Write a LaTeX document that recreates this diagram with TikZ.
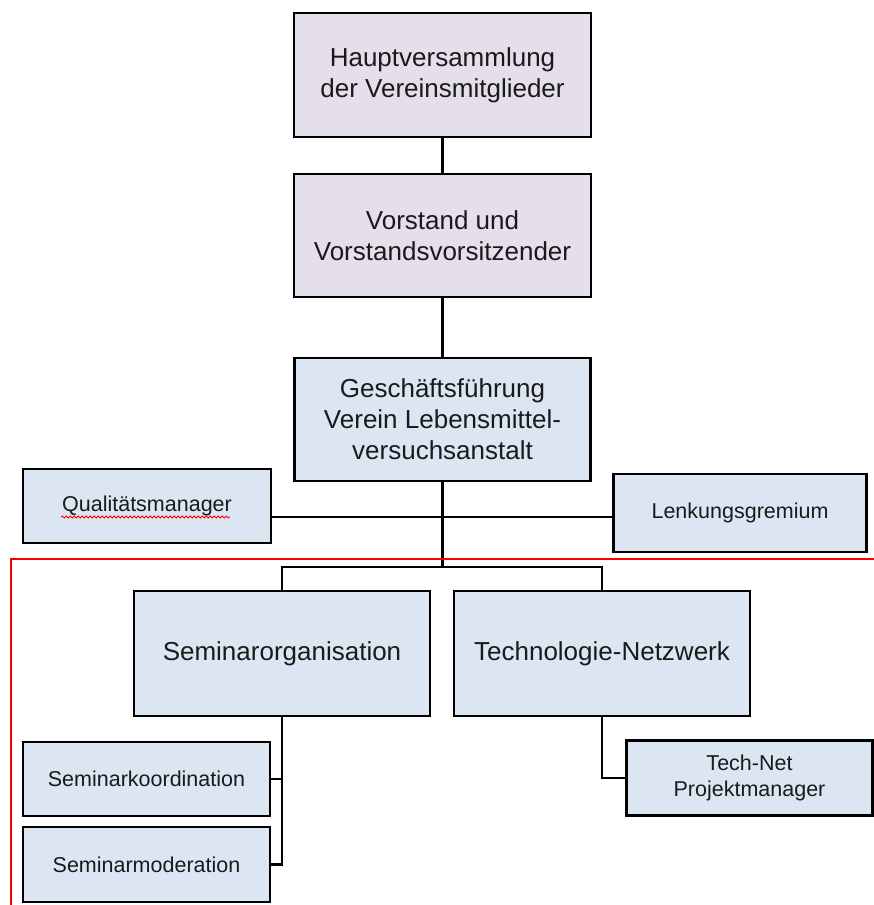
\documentclass[tikz,border=0pt]{standalone}
\usepackage{fontspec}
\setmainfont{Liberation Sans}
\usetikzlibrary{decorations.pathmorphing}
\definecolor{lav}{HTML}{E5DFEC}
\definecolor{lblue}{HTML}{DCE6F2}
\definecolor{txt}{HTML}{1A1A1A}
\begin{document}
\begin{tikzpicture}[x=1pt,y=-1pt,
  box/.style={draw=black,line width=2.4pt,align=center,inner sep=0pt,text=txt},
  bigbox/.style={box,font=\fontsize{26}{31}\selectfont},
  smallbox/.style={box,fill=lblue,font=\fontsize{21.5}{26}\selectfont},
  conn/.style={draw=black,line width=2.4pt}]
\useasboundingbox (0,0) rectangle (874,905);
\node[bigbox,fill=lav,minimum width=297pt,minimum height=124pt] (H) at (442.5,75) {Hauptversammlung\\der Vereinsmitglieder};
\node[bigbox,fill=lav,minimum width=297pt,minimum height=123pt] (V) at (442.5,235.5) {Vorstand und\\Vorstandsvorsitzender};
\node[bigbox,fill=lblue,minimum width=296pt,minimum height=123pt] (G) at (442.5,419.5) {Geschäftsführung\\Verein Lebensmittel-\\versuchsanstalt};
\node[smallbox,minimum width=248pt,minimum height=74pt] (Q) at (147,506) {Qualitätsmanager};
\node[smallbox,minimum width=253pt,minimum height=78pt] (L) at (740,513) {Lenkungsgremium};
\node[bigbox,fill=lblue,minimum width=296pt,minimum height=125pt] (S) at (282,653.5) {Seminarorganisation};
\node[bigbox,fill=lblue,minimum width=296pt,minimum height=125pt] (T) at (602,653.5) {Technologie-Netzwerk};
\node[smallbox,minimum width=247pt,minimum height=74pt] (SK) at (146.5,779) {Seminarkoordination};
\node[smallbox,minimum width=247pt,minimum height=75pt] (SM) at (146.5,864.5) {Seminarmoderation};
\node[smallbox,minimum width=246pt,minimum height=75pt] (TP) at (749.5,778) {Tech-Net\\Projektmanager};
\coordinate (qj) at (442.5,517);
\coordinate (bus) at (442.5,567);
\draw[conn] (H.south) -- (V.north);
\draw[conn] (V.south) -- (G.north);
\draw[conn] (G.south) -- (bus);
\draw[conn] (Q.east |- qj) -- (L.west |- qj);
\draw[conn] (S.north) |- (bus) -| (T.north);
\draw[conn] (S.south) |- (SM.east);
\draw[conn] (SK.east) -- (SK.east -| S.south);
\draw[conn] (T.south) |- (TP.west);
% red boundary line
\draw[red,line width=2pt] (874,559) -- (11,559) -- (11,905);
% spell-check squiggle
\draw[red,line width=0.8pt,decorate,decoration={snake,amplitude=1pt,segment length=4pt}] (61,517) -- (230,517);
\end{tikzpicture}
\end{document}
